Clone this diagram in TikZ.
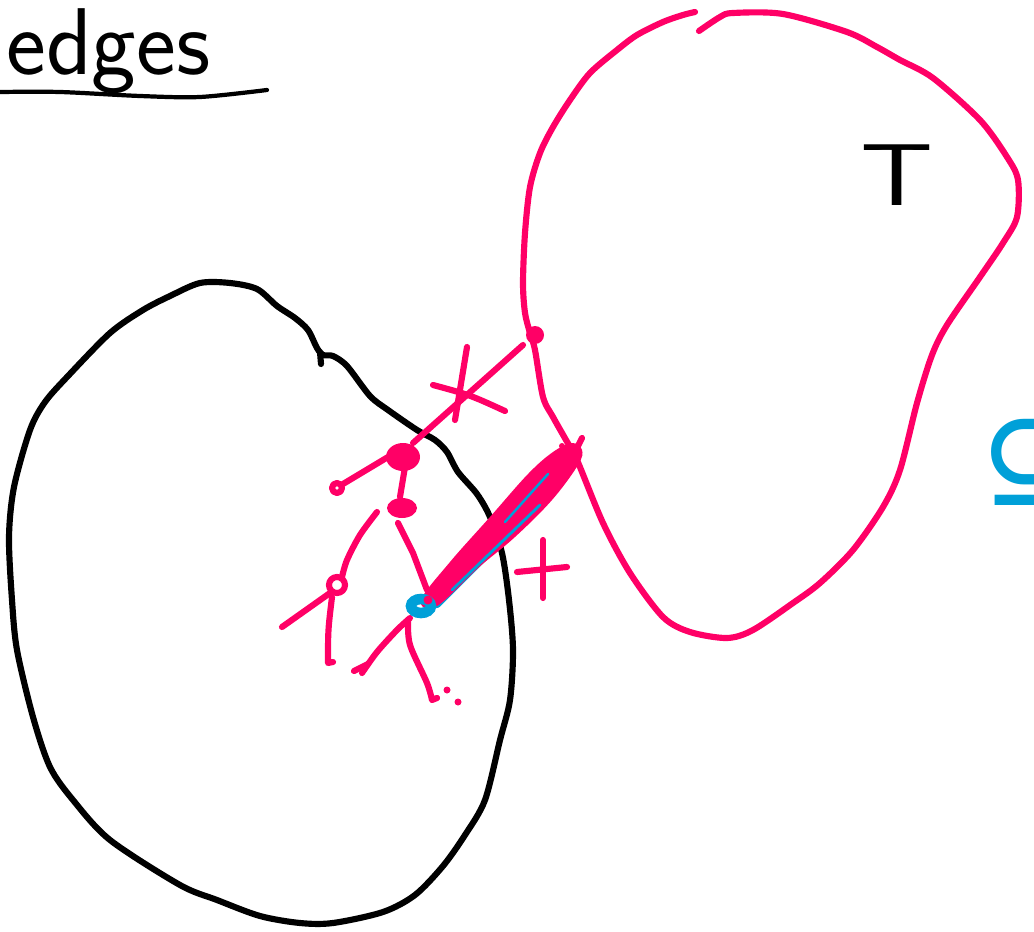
\documentclass[tikz,border=0pt]{standalone}
\usepackage{fontspec}
\usepackage{tikz}
\newfontfamily\symbolfont{DejaVu Sans}
\definecolor{ink}{HTML}{000000}
\definecolor{marker}{HTML}{FF0066}
\definecolor{hilite}{HTML}{00A0D8}

\begin{document}
\begin{tikzpicture}[x=0.02cm,y=-0.02cm,
    pen/.style={line width=3.5pt,line cap=round,line join=round},
    markpen/.style={pen,draw=marker},
    thinpen/.style={line width=2.4pt,line cap=round,line join=round}]
  \useasboundingbox (0,0) rectangle (1034,932);

  % heading
  \node[anchor=base west,inner sep=0,font=\fontsize{54}{60}\sffamily] (heading) at (6,75) {edges};
  \draw[thinpen] plot[smooth] coordinates {(0,92) (60,92) (140,96) (200,97) (267,90)};

  % set S
  \draw[pen,draw=ink] plot[smooth cycle,tension=0.5] coordinates {
    (200,283) (230,283) (257,289) (277,306) (295,318) (308,330) (317,348)
    (323,355) (333,356) (347,366) (370,396) (388,410) (417,430) (435,440)
    (447,452) (458,472) (477,494) (490,517) (502,553) (509,600) (513,650)
    (510,700) (500,740) (485,800) (465,835) (443,866) (415,895) (383,912)
    (333,923) (300,923) (260,916) (217,900) (180,885) (110,840) (73,800)
    (50,767) (33,717) (17,650) (12,600) (9,537) (14,487) (30,430) (45,402)
    (68,376) (110,333) (143,310) (170,296)};
  \draw[pen] (320,352) -- (321,364);

  % set T
  \draw[markpen] plot[smooth,tension=0.5] coordinates {
    (695,12) (683,15) (663,22) (637,35) (617,50) (590,73) (570,100) (553,127)
    (540,153) (530,187) (525,233) (523,283) (525,313) (530,333) (535,350)
    (543,397) (553,417) (566,440) (577,460) (603,523) (630,573) (663,617)
    (690,632) (727,638) (753,630) (793,603) (820,583) (853,550) (883,507)
    (900,470) (917,403) (932,355) (947,325) (980,277) (1003,243) (1017,217)
    (1018,180) (1007,157) (980,120) (933,78) (900,60) (877,47) (847,32)
    (783,14) (733,13) (720,17) (699,31)};
  \node[inner sep=0,font=\fontsize{50}{60}\sffamily,xscale=1.3] (tlabel) at (897,175) {T};

  % edge over the cut
  \coordinate (top) at (535,335);
  \coordinate (u) at (403,457);
  \coordinate (v) at (402,508);
  \coordinate (w) at (421,606);
  \coordinate (far) at (577,448);
  \fill[marker] (top) circle (9);
  \draw[markpen] (top) ++(-12,10) -- (413,443);
  \draw[markpen] (467,347) -- (455,420);
  \draw[markpen] (433,385) .. controls (470,395) .. (505,411);

  % tree in S
  \fill[marker] (u) ellipse [x radius=17, y radius=14];
  \fill[marker] (v) ellipse [x radius=15, y radius=10];
  \draw[markpen] (u) ++(-15,0) -- (343,484);
  \draw[markpen] (337,488) circle (5);
  \draw[markpen] (u) ++(2,10) -- (400,497);
  \draw[markpen] (v) ++(-4,15) -- (413,553) -- (427,590);
  \draw[markpen] plot[smooth] coordinates {(377,512) (360,535) (347,560) (342,577)};
  \coordinate (c) at (337,585);
  \draw[markpen] (c) circle (8);
  \draw[markpen] (c) ++(-7,8) -- (282,627);
  \draw[markpen] (c) ++(-5,12) .. controls (328,630) .. (328,663) -- (333,662);
  \draw[markpen] plot[smooth] coordinates {(410,618) (397,630) (377,652) (362,673)};
  \draw[markpen] (354,671) -- (368,664);
  \draw[markpen] plot[smooth] coordinates {(408,620) (410,645) (427,683) (432,700)} -- (437,698);
  \fill[marker] (447,690) circle (3.5) (458,702) circle (3.5);

  % bundle of cut edges
  \draw[line width=7pt,line cap=round,draw=hilite] (436,602) -- (556,482);
  \fill[marker] plot[smooth cycle,tension=0.6] coordinates {
    (421,600) (450,562) (490,517) (528,474) (553,452) (572,443) (582,450)
    (578,465) (552,500) (515,537) (478,568) (437,606)};
  \draw[line width=1.6pt,line cap=round,draw=hilite] (452,590) -- (540,505);
  \draw[line width=1.4pt,line cap=round,draw=hilite] (505,522) -- (548,474);
  \draw[markpen] (far) -- (582,438);
  \fill[marker] (562,446) circle (3);
  \draw[line width=6pt,draw=hilite] (w) ellipse [x radius=10, y radius=7];
  \fill[marker] (428,600) circle (4.5);

  % plus sign
  \draw[markpen] (543,540) -- (543,598);
  \draw[markpen] (517,572) -- (567,567);

  % subset sign, cut by the border
  \node[anchor=west,inner sep=0,text=hilite,font=\symbolfont\fontsize{80}{80}\selectfont] (subs) at (978,462) {⊆};
\end{tikzpicture}
\end{document}
